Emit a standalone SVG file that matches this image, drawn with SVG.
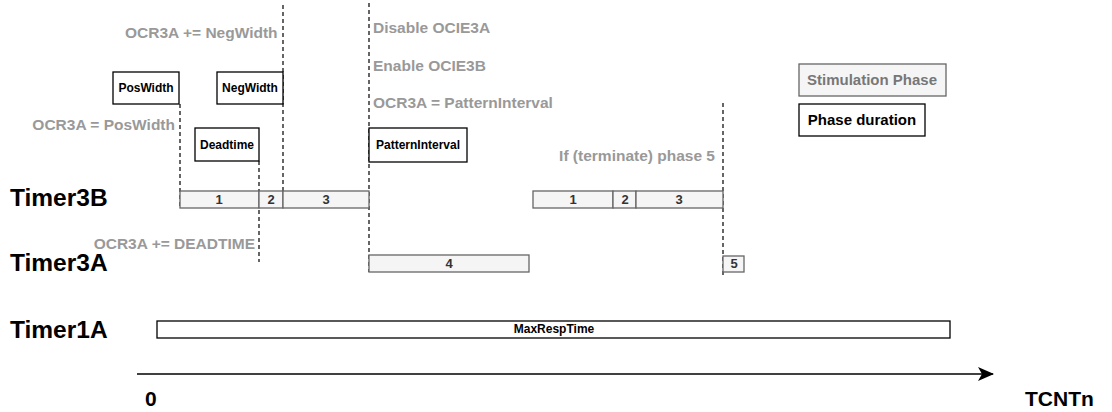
<svg xmlns="http://www.w3.org/2000/svg" width="1112" height="412" viewBox="0 0 1112 412">
<style>
text{font-family:"Liberation Sans",Arial,Helvetica,sans-serif;font-weight:bold}
.lane{font-size:24.5px;fill:#000}
.note{font-size:15.5px;fill:#999999}
.box{fill:#ffffff;stroke:#000000;stroke-width:1.3}
.btxt{font-size:12px;fill:#000;text-anchor:middle}
.seg{fill:#f5f5f5;stroke:#666666;stroke-width:1.3}
.num{font-size:13px;fill:#333333;text-anchor:middle}
.dash{stroke:#000;stroke-width:1.2;stroke-dasharray:4 3;fill:none}
</style>
<defs>
<marker id="arr" markerWidth="16" markerHeight="14" refX="15" refY="7" orient="auto" markerUnits="userSpaceOnUse">
<path d="M0,0 L16,7 L0,14 L4,7 Z" fill="#000"/>
</marker>
</defs>

<g id="lane-labels">
<text class="lane" x="10" y="206">Timer3B</text>
<text class="lane" x="10" y="271">Timer3A</text>
<text class="lane" x="10" y="338">Timer1A</text>
</g>

<g id="notes">
<text class="note" x="125" y="38">OCR3A += NegWidth</text>
<text class="note" x="175" y="130" text-anchor="end">OCR3A = PosWidth</text>
<text class="note" x="373" y="33">Disable OCIE3A</text>
<text class="note" x="373" y="71">Enable OCIE3B</text>
<text class="note" x="373" y="108">OCR3A = PatternInterval</text>
<text class="note" x="715" y="161" text-anchor="end">If (terminate) phase 5</text>
<text class="note" x="255" y="249" text-anchor="end">OCR3A += DEADTIME</text>
</g>

<g id="connectors">
<line class="dash" x1="180" y1="104" x2="180" y2="208"/>
<line class="dash" x1="259" y1="161" x2="259" y2="262"/>
<line class="dash" x1="283" y1="5" x2="283" y2="208"/>
<line class="dash" x1="369" y1="3" x2="369" y2="272"/>
<line class="dash" x1="723" y1="103" x2="723" y2="278"/>
<line x1="137" y1="374" x2="993" y2="374" stroke="#000" stroke-width="1.5" marker-end="url(#arr)"/>
</g>

<g id="poswidth"><rect class="box" x="113" y="72" width="66" height="32"/><text class="btxt" x="146" y="92">PosWidth</text></g>
<g id="negwidth"><rect class="box" x="217" y="72" width="66" height="32"/><text class="btxt" x="250" y="92">NegWidth</text></g>
<g id="deadtime"><rect class="box" x="195" y="128" width="64" height="33"/><text class="btxt" x="227" y="149">Deadtime</text></g>
<g id="patterninterval"><rect class="box" x="369" y="128" width="98" height="34"/><text class="btxt" x="418" y="149">PatternInterval</text></g>

<g id="legend-stimulation"><rect class="seg" x="799" y="64" width="147" height="32"/><text x="872" y="85" font-size="15" fill="#777777" text-anchor="middle">Stimulation Phase</text></g>
<g id="legend-duration"><rect class="box" x="799" y="104" width="126" height="32"/><text x="862" y="125" font-size="15" fill="#000" text-anchor="middle">Phase duration</text></g>

<g id="timer3b-1">
<rect class="seg" x="180" y="191" width="79" height="17"/><text class="num" x="219" y="204">1</text>
<rect class="seg" x="259" y="191" width="24" height="17"/><text class="num" x="271" y="204">2</text>
<rect class="seg" x="283" y="191" width="86" height="17"/><text class="num" x="326" y="204">3</text>
</g>
<g id="timer3b-2">
<rect class="seg" x="533" y="191" width="80" height="17"/><text class="num" x="573" y="204">1</text>
<rect class="seg" x="613" y="191" width="23" height="17"/><text class="num" x="625" y="204">2</text>
<rect class="seg" x="636" y="191" width="87" height="17"/><text class="num" x="679" y="204">3</text>
</g>
<g id="timer3a-4"><rect class="seg" x="369" y="255" width="160" height="17"/><text class="num" x="449" y="268">4</text></g>
<g id="timer3a-5"><rect class="seg" x="723" y="256" width="21" height="16"/><text class="num" x="734" y="268" font-size="10">5</text></g>
<g id="timer1a"><rect x="157" y="321" width="793" height="17" fill="#fff" stroke="#000" stroke-width="1.3"/><text class="btxt" x="554" y="333" font-size="13">MaxRespTime</text></g>

<g id="axis-labels">
<text x="145" y="406" font-size="21" fill="#000">0</text>
<text x="1025" y="406" font-size="21" fill="#000">TCNTn</text>
</g>
</svg>
